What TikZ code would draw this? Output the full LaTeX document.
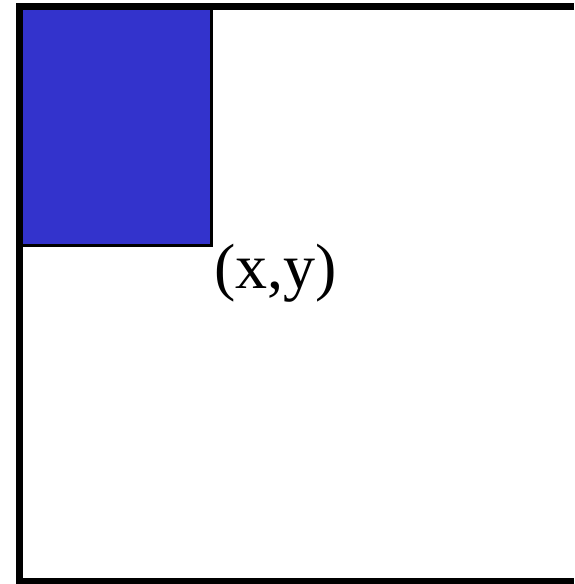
\documentclass[tikz,border=0pt]{standalone}
\usepackage{fontspec}
\setmainfont{Liberation Serif}
\usepackage{xcolor}
\definecolor{boxblue}{HTML}{3333CC}

\begin{document}
\begin{tikzpicture}[x=1pt, y=-1pt]
  \useasboundingbox (0,0) rectangle (574,584);
  % Blaa rute i hjornet
  \filldraw[fill=boxblue, draw=black, line width=3pt] (19.5,6.5) rectangle (211,245);
  % Ramme
  \draw[line width=6.5pt, line join=miter] (574,6.5) -- (19.5,6.5) -- (19.5,581.5) -- (574,581.5);
  % Punkt-merking
  \node[anchor=base west, inner sep=0pt, font=\fontsize{64}{64}\selectfont] (corner) at (214,288) {(x,y)};
\end{tikzpicture}
\end{document}
